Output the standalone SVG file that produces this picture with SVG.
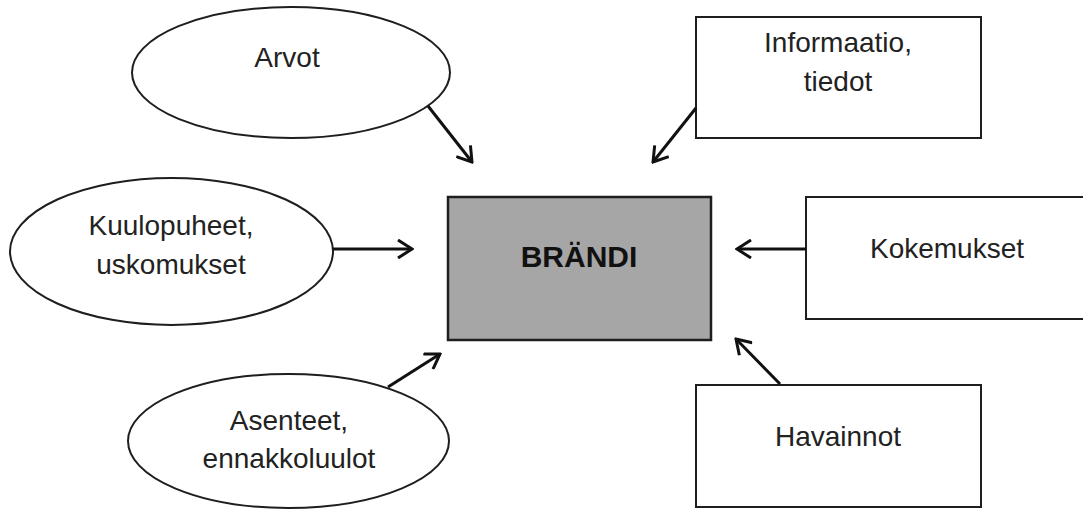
<svg xmlns="http://www.w3.org/2000/svg" width="1083" height="510" viewBox="0 0 1083 510">
<defs>
<style>
.shape{fill:#fff;stroke:#1e1e1e;stroke-width:2}
.core{fill:#a6a6a6;stroke:#1e1e1e;stroke-width:2.5}
.lbl{font-family:"Liberation Sans",Arial,sans-serif;font-size:28px;fill:#222;text-anchor:middle}
.bold{font-weight:bold;font-size:30px;fill:#111}
.conn line{stroke:#111;stroke-width:3;marker-end:url(#arr)}
</style>
<marker id="arr" viewBox="0 0 18 20" refX="16" refY="10" markerWidth="18" markerHeight="20" markerUnits="userSpaceOnUse" orient="auto">
<path d="M2,1 L16,10 L2,19" fill="none" stroke="#111" stroke-width="3"/>
</marker>
</defs>
<rect width="1083" height="510" fill="#fff"/>
<g id="arvot">
<ellipse class="shape" cx="291" cy="72.5" rx="159" ry="65.5"/>
<text class="lbl" x="287" y="67">Arvot</text>
</g>
<g id="kuulopuheet">
<ellipse class="shape" cx="171.5" cy="251.5" rx="161.5" ry="73.5"/>
<text class="lbl" x="171" y="235">Kuulopuheet,</text>
<text class="lbl" x="171" y="274">uskomukset</text>
</g>
<g id="asenteet">
<ellipse class="shape" cx="288.5" cy="441" rx="160.5" ry="67"/>
<text class="lbl" x="289" y="430">Asenteet,</text>
<text class="lbl" x="289" y="468">ennakkoluulot</text>
</g>
<g id="brandi">
<rect class="core" x="448" y="197" width="263" height="143"/>
<text class="lbl bold" x="579" y="267">BRÄNDI</text>
</g>
<g id="informaatio">
<rect class="shape" x="696" y="17" width="285" height="121"/>
<text class="lbl" x="838" y="52">Informaatio,</text>
<text class="lbl" x="838" y="91">tiedot</text>
</g>
<g id="kokemukset">
<rect class="shape" x="806" y="197" width="290" height="122"/>
<text class="lbl" x="947" y="258">Kokemukset</text>
</g>
<g id="havainnot">
<rect class="shape" x="696" y="385" width="285" height="122"/>
<text class="lbl" x="838" y="446">Havainnot</text>
</g>
<g id="connectors" class="conn">
<line x1="428" y1="106" x2="472" y2="162"/>
<line x1="696" y1="108" x2="653" y2="162"/>
<line x1="333" y1="249" x2="412" y2="249"/>
<line x1="388" y1="387" x2="440" y2="354"/>
<line x1="806" y1="249" x2="737" y2="249"/>
<line x1="780" y1="384" x2="736" y2="339"/>
</g>
</svg>
